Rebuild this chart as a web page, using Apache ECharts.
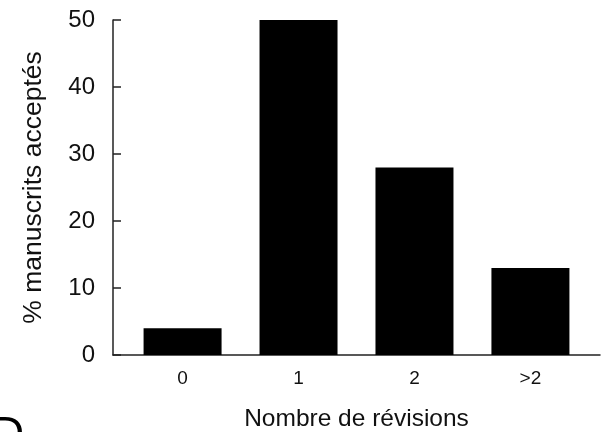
<!DOCTYPE html>
<html><head><meta charset="utf-8">
<script src="https://cdn.jsdelivr.net/npm/echarts@6/dist/echarts.min.js"></script>
<style>html,body{margin:0;padding:0;background:#fff}#c{width:610px;height:432px}</style>
</head><body><div id="c"></div>
<script>
const categories = ['0', '1', '2', '>2'];
const values = [4, 50, 28, 13];
const yTicks = [0, 10, 20, 30, 40, 50];

const font = 'Liberation Sans, Arial, sans-serif';
const chart = echarts.init(document.getElementById('c'));
chart.setOption({
  animation: false,
  backgroundColor: '#fff',
  title: {
    text: 'D', left: -14, top: 408,
    textStyle: { fontFamily: font, fontSize: 46, fontWeight: 'normal', color: '#000' }
  },
  grid: { left: 113, right: 10, top: 20, bottom: 77, outerBoundsMode: 'none', containLabel: false },
  xAxis: {
    type: 'value', min: -0.6, max: 3.6, interval: 0.2,
    name: 'Nombre de révisions', nameLocation: 'middle', nameGap: 52,
    nameTextStyle: { fontFamily: font, fontSize: 24.5, color: '#111' },
    axisLine: { show: true, onZero: false, lineStyle: { color: '#222', width: 1.5 } },
    axisTick: { show: false },
    splitLine: { show: false },
    axisLabel: {
      margin: 14, fontFamily: font, fontSize: 19, color: '#111',
      showMinLabel: true, showMaxLabel: true,
      formatter: function (v) {
        const r = Math.round(v * 10) / 10;
        if (Number.isInteger(r) && r >= 0 && r < categories.length) return categories[r];
        return '';
      }
    }
  },
  yAxis: {
    type: 'value', min: yTicks[0], max: yTicks[yTicks.length - 1], interval: 10,
    name: '% manuscrits acceptés', nameLocation: 'middle', nameGap: 66,
    nameTextStyle: { fontFamily: font, fontSize: 26.5, color: '#111' },
    axisLine: { show: true, onZero: false, lineStyle: { color: '#222', width: 1.5 } },
    axisTick: { show: true, inside: true, length: 8, lineStyle: { color: '#222', width: 1.5 } },
    splitLine: { show: false },
    axisLabel: { margin: 18, fontFamily: font, fontSize: 24, color: '#111' }
  },
  series: [{
    type: 'bar',
    barWidth: 78,
    itemStyle: { color: '#000' },
    data: values.map((v, i) => [i, v])
  }]
});
</script></body></html>
